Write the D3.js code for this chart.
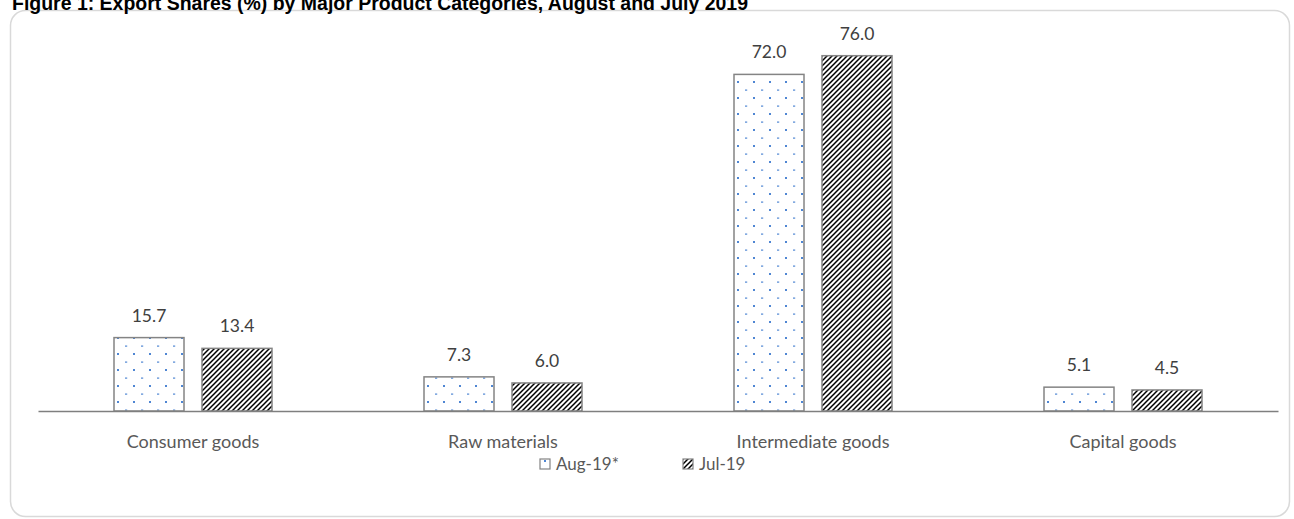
<!DOCTYPE html>
<html>
<head>
<meta charset="utf-8">
<script src="https://cdn.jsdelivr.net/npm/d3@7"></script>
<style>
body{margin:0;background:#fff;}
svg{display:block;}
</style>
</head>
<body>
<div id="graph"></div>
<script>
var width=1294;
var height=519;

// data
var categories=['Consumer goods','Raw materials','Intermediate goods','Capital goods'];
var seriesNames=['Aug-19*','Jul-19'];
var aug19=[15.7,7.3,72.0,5.1];
var jul19=[13.4,6.0,76.0,4.5];
var title='Figure 1: Export Shares (%) by Major Product Categories, August and July 2019';

var svg=d3.select('#graph').append('svg').attr('width',width).attr('height',height);

var defs=svg.append('defs');
// dotted grid pattern for Aug
var p1=defs.append('pattern').attr('id','dots').attr('patternUnits','userSpaceOnUse')
	.attr('width',16).attr('height',16).attr('x',116).attr('y',1);
p1.append('rect').attr('width',16).attr('height',16).attr('fill','#fff');
p1.append('rect').attr('x',0).attr('y',0).attr('width',2).attr('height',2).attr('fill','#4f86d3');
p1.append('rect').attr('x',8).attr('y',8.5).attr('width',2.2).attr('height',1.2).attr('fill','#4f86d3');
// diagonal pattern for Jul
var p2=defs.append('pattern').attr('id','diag').attr('patternUnits','userSpaceOnUse')
	.attr('width',5).attr('height',5);
p2.append('rect').attr('width',5).attr('height',5).attr('fill','#fff');
p2.append('path').attr('d','M-1,6 L6,-1 M-1,1 L1,-1 M4,6 L6,4').attr('stroke','#000').attr('stroke-width',1.5);

var fills=['url(#dots)','url(#diag)'];

// frame
svg.append('rect').attr('x',10.5).attr('y',10.5).attr('width',1279).attr('height',506)
	.attr('rx',15).attr('fill','#fff').attr('stroke','#d9d9d9').attr('stroke-width',1.5);

// title (top is cut off in the source too)
svg.append('text').attr('x',12).attr('y',10).text(title)
	.attr('textLength',736).attr('lengthAdjust','spacingAndGlyphs')
	.style('font-family','Liberation Sans, Arial, sans-serif').style('font-weight','bold')
	.style('font-size','20px').attr('fill','#000');

var x0=d3.scaleBand().domain(categories).range([38,1278]);
var x1=d3.scaleOrdinal().domain(seriesNames).range([-44,44]);
var y=d3.scaleLinear().domain([0,80]).range([411,37]);
var barW=70;

var rows=categories.map(function(c,i){
	return {cat:c,vals:[{s:seriesNames[0],v:aug19[i]},{s:seriesNames[1],v:jul19[i]}]};
});

var g=svg.selectAll('g.cat').data(rows).enter().append('g').attr('class','cat')
	.attr('transform',function(d){return 'translate('+(x0(d.cat)+x0.bandwidth()/2)+',0)';});

g.selectAll('rect').data(function(d){return d.vals;}).enter().append('rect')
	.attr('x',function(d){return x1(d.s)-barW/2;})
	.attr('y',function(d){return y(d.v);})
	.attr('width',barW)
	.attr('height',function(d){return y(0)-y(d.v);})
	.attr('fill',function(d,i){return fills[i];})
	.attr('stroke','#848484').attr('stroke-width',1.5);

g.selectAll('text.val').data(function(d){return d.vals;}).enter().append('text').attr('class','val')
	.attr('x',function(d){return x1(d.s);})
	.attr('y',function(d){return y(d.v)-16;})
	.attr('text-anchor','middle')
	.text(function(d){return d.v.toFixed(1);})
	.style('font-family','Lato, Carlito, Calibri, sans-serif').style('font-size','17.5px').attr('fill','#404040');

// x axis
var xAxis=d3.axisBottom(x0).tickSize(0).tickPadding(0);
var ax=svg.append('g').attr('transform','translate(0,'+y(0)+')').call(xAxis);
ax.select('.domain').attr('stroke','#7f7f7f').attr('stroke-width',1.5);
ax.selectAll('text').attr('dy',null).attr('y',37)
	.style('font-family','Lato, Carlito, Calibri, sans-serif').style('font-size','18px').attr('fill','#595959');

// legend
var legX=[540,683];
var leg=svg.selectAll('g.leg').data(seriesNames).enter().append('g').attr('class','leg')
	.attr('transform',function(d,i){return 'translate('+legX[i]+',459)';});
leg.append('rect').attr('width',10).attr('height',10)
	.attr('fill',function(d,i){return fills[i];})
	.attr('stroke','#848484').attr('stroke-width',1.2);
leg.append('text').attr('x',16).attr('y',11).text(function(d){return d;})
	.style('font-family','Lato, Carlito, Calibri, sans-serif').style('font-size','17px').attr('fill','#595959');
</script>
</body>
</html>
